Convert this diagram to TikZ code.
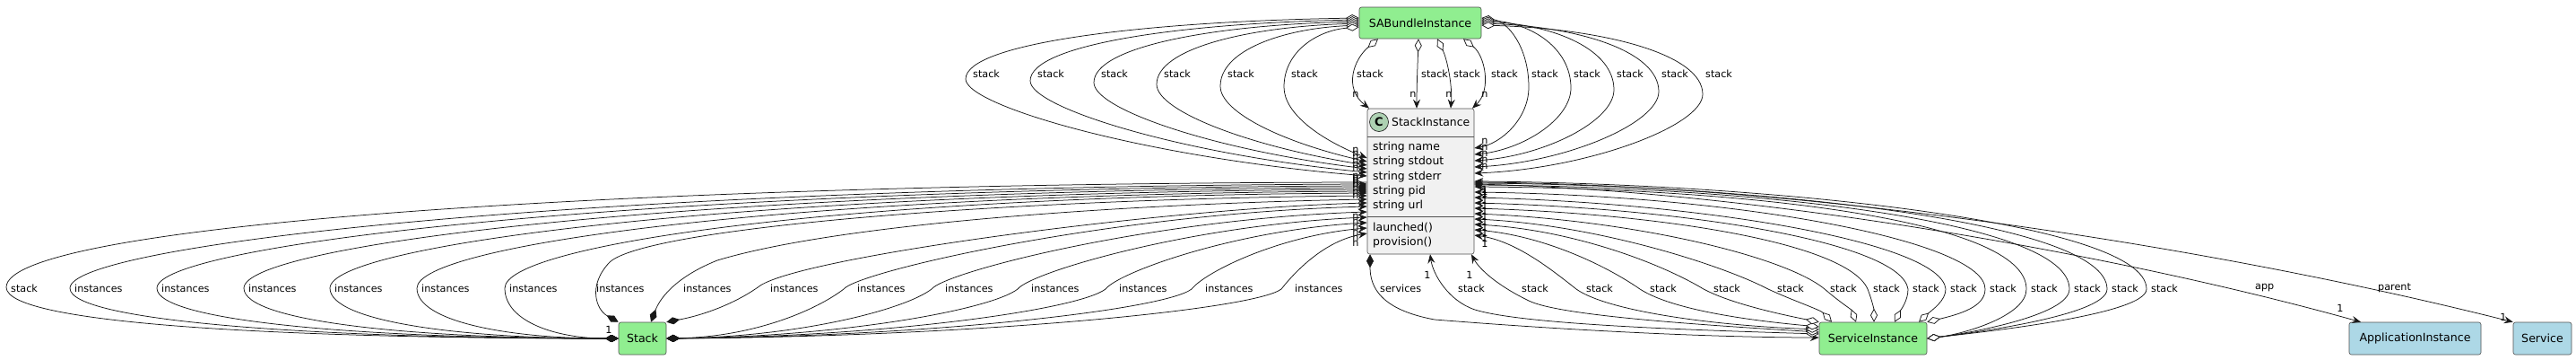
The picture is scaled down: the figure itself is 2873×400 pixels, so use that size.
\documentclass[tikz,border=0pt]{standalone}
\usepackage{fontspec}
\setmainfont{DejaVu Sans}
\usetikzlibrary{arrows.meta}
\definecolor{lgreen}{HTML}{90EE90}
\definecolor{lblue}{HTML}{ADD8E6}
\definecolor{clsbg}{HTML}{F1F1F1}
\definecolor{circ}{HTML}{ADD1B2}
\definecolor{ink}{HTML}{181818}
\begin{document}
\begin{tikzpicture}[x=1pt,y=-1pt,
  box/.style={draw=ink!75, line width=0.6pt, rounded corners=2.5pt, inner sep=0pt, font=\fontsize{12.6}{15}\selectfont, text=black},
  gbox/.style={box, fill=lgreen},
  bbox/.style={box, fill=lblue},
  con/.style={draw=ink, line width=0.75pt},
  agg/.style={con, {Diamond[fill=white,length=15pt,width=8pt]}-{Stealth[length=10pt,width=8pt,inset=3.5pt]}},
  comp/.style={con, {Diamond[length=15pt,width=8pt]}-{Stealth[length=10pt,width=8pt,inset=3.5pt]}},
  dep/.style={con, -{Stealth[length=10pt,width=8pt,inset=3.5pt]}},
  lab/.style={font=\fontsize{11.2}{13}\selectfont, inner sep=0pt, anchor=west},
  mult/.style={font=\fontsize{11.2}{13}\selectfont, inner sep=0pt},
  attr/.style={font=\fontsize{12.4}{14}\selectfont, inner sep=0pt, anchor=west},
  sep/.style={draw=ink!75, line width=0.6pt}]
\fill[white] (0,0) rectangle (2873,400);
\useasboundingbox (0,0) rectangle (2873,400);

% ---------- nodes ----------
\node[gbox, minimum width=136pt, minimum height=35pt] (SAB) at (1584,25.5) {SABundleInstance};
\node[draw=ink!75, fill=clsbg, line width=0.6pt, rounded corners=2.5pt, minimum width=119pt, minimum height=162pt, inner sep=0pt] (SI) at (1584.5,202) {};
\draw[sep] (SI.west |- 0,152) -- (SI.east |- 0,152);
\draw[sep] (SI.west |- 0,241) -- (SI.east |- 0,241);
\node[circle, draw=ink, line width=0.6pt, fill=circ, minimum size=21pt, inner sep=0pt, font=\bfseries\fontsize{13}{13}\selectfont] (SIc) at (1538,136) {C};
\node[attr] (SIt) at (1552,136) {StackInstance};
\node[attr] (at1) at (1531,164) {string name};
\node[attr] (at2) at (1531,180.5) {string stdout};
\node[attr] (at3) at (1531,197) {string stderr};
\node[attr] (at4) at (1531,213) {string pid};
\node[attr] (at5) at (1531,229) {string url};
\node[attr] (me1) at (1531,253.5) {launched()};
\node[attr] (me2) at (1531,270) {provision()};
\node[gbox, minimum width=53pt, minimum height=36pt] (Stack) at (716.5,377) {Stack};
\node[gbox, minimum width=120pt, minimum height=36pt] (SvI) at (2089,377) {ServiceInstance};
\node[bbox, minimum width=147pt, minimum height=36pt] (AppI) at (2693.5,377) {ApplicationInstance};
\node[bbox, minimum width=65pt, minimum height=36pt] (Svc) at (2835.5,377) {Service};

% ---------- SABundleInstance -> StackInstance (top) ----------
\draw[agg] (SAB.south -| 1537,0) .. controls (1510,66) and (1498,98) .. (SI.north -| 1527,0);
\draw[agg] (SAB.south -| 1582,0) .. controls (1581,75) and (1580,95) .. (SI.north -| 1580,0);
\draw[agg] (SAB.south -| 1603,0) .. controls (1614,66) and (1620,95) .. (SI.north -| 1618,0);
\draw[agg] (SAB.south -| 1632,0) .. controls (1656,62) and (1664,100) .. (SI.north -| 1642,0);
\node[lab] (lt1) at (1513,82) {stack};
\node[lab] (lt2) at (1585,82) {stack};
\node[lab] (lt3) at (1621,82) {stack};
\node[lab] (lt4) at (1663,82) {stack};
\node[mult] (nt1) at (1512,105) {n};
\node[mult] (nt2) at (1576,105) {n};
\node[mult] (nt3) at (1616,105) {n};
\node[mult] (nt4) at (1656,105) {n};

% left loops
\foreach \L/\Y/\ys/\ey in {1085/88/20/196,1157/90/22/192,1228/92/24/188,1298/94/26/184,1369/96/28/180,1440/97/30/176}{
  \pgfmathsetmacro\X{\L-8}
  \pgfmathsetmacro\ca{\X+0.45*(1516-\X)}
  \pgfmathsetmacro\cb{\X+0.45*(1525-\X)}
  \draw[agg] (SAB.west |- 0,\ys) .. controls (\ca,\ys+4) and (\X,\Y-40) .. (\X,\Y) .. controls (\X,\Y+30) and (\cb,\ey-20) .. (SI.west |- 0,\ey);
  \node[lab] (lsa\L) at (\L,82) {stack};
  \node[mult] (nsa\L) at (1512,\ey-9) {n};
}
% right loops
\foreach \L/\Y/\ys/\ey in {1708/97/20/165,1755/98/22/172,1803/100/24/179,1853/102/26/186,1902/105/28/193}{
  \pgfmathsetmacro\X{\L-3}
  \pgfmathsetmacro\ca{1652+0.55*(\X-1652)}
  \pgfmathsetmacro\cb{1644+0.5*(\X-1644)}
  \draw[agg] (SAB.east |- 0,\ys) .. controls (\ca,\ys+4) and (\X,\Y-45) .. (\X,\Y) .. controls (\X,\Y+35) and (\cb,\ey-5) .. (SI.east |- 0,\ey);
  \node[lab] (lsb\L) at (\L,82) {stack};
  \node[mult] (nsb\L) at (1656,\ey-8) {n};
}

% ---------- Stack <-> StackInstance ----------
\draw[dep] (SI.west |- 0,203) .. controls (700,204) and (7,250) .. (7,320) .. controls (7,362) and (330,377) .. (Stack.west);
\node[lab] (lst) at (12,321) {stack};
\node[mult] (nst) at (679,367) {1};

\foreach \L/\ey in {83/205,180/207,277/209,373/211,470/213,568/215}{
  \pgfmathsetmacro\X{\L-5}
  \pgfmathsetmacro\ca{\X+0.45*(690-\X)}
  \pgfmathsetmacro\cb{\X+0.4*(1525-\X)}
  \draw[comp] (Stack.west) .. controls (\ca,377) and (\X,358) .. (\X,321) .. controls (\X,272) and (\cb,\ey+3) .. (SI.west |- 0,\ey);
  \node[lab] (lin\L) at (\L,321) {instances};
  \node[mult] (nin\L) at (1512,\ey-9) {n};
}
\draw[comp] (Stack.north west) .. controls (665,345) and (655,318) .. (680,292) .. controls (720,255) and (1100,222) .. (SI.west |- 0,218);
\draw[comp] (Stack.north -| 726,0) .. controls (735,335) and (750,310) .. (800,290) .. controls (950,245) and (1300,226) .. (SI.west |- 0,222);
\draw[comp] (Stack.north east) .. controls (790,350) and (825,335) .. (848,318) .. controls (900,285) and (1300,232) .. (SI.west |- 0,226);
\node[lab] (lin665) at (665,321) {instances};
\node[lab] (lin762) at (762,321) {instances};
\node[lab] (lin859) at (859,321) {instances};
\node[mult] (nin665) at (1512,210) {n};
\node[mult] (nin762) at (1512,214) {n};
\node[mult] (nin859) at (1512,218) {n};
\foreach \L/\ey in {956/230,1054/236,1150/242,1248/248,1344/254,1444/260}{
  \pgfmathsetmacro\K{\L-15}
  \pgfmathsetmacro\ca{\K-0.5*(\K-743)}
  \pgfmathsetmacro\cb{\K+0.5*(1525-\K)}
  \draw[comp] (Stack.east) .. controls (\ca,375) and (\K-30,345) .. (\K,322) .. controls (\K+15,303) and (\cb,\ey+8) .. (SI.west |- 0,\ey);
  \node[lab] (lin\L) at (\L,321) {instances};
  \node[mult] (nin\L) at (1512,\ey+11) {n};
}

% ---------- StackInstance -> ServiceInstance ----------
\draw[comp] (SI.south -| 1528,0) .. controls (1528,320) and (1540,345) .. (1600,356) .. controls (1800,372) and (1950,376) .. (SvI.west |- 0,376);
\node[lab] (lsv) at (1539,321) {services};
\node[mult] (nsv) at (2017,367) {n};

% ---------- ServiceInstance -> StackInstance ----------
\draw[agg] (SvI.west |- 0,372) .. controls (1900,368) and (1700,362) .. (1645,345) .. controls (1615,335) and (1598,305) .. (SI.south -| 1595,0);
\draw[agg] (SvI.west |- 0,370) .. controls (1900,362) and (1740,352) .. (1705,335) .. controls (1670,318) and (1650,300) .. (SI.south -| 1641,0);
\node[mult] (n1a) at (1592,306) {1};
\node[mult] (n1b) at (1639,306) {1};
\draw[agg] (SvI.west |- 0,367) .. controls (1900,362) and (1790,345) .. (1758,322) .. controls (1730,300) and (1690,268) .. (SI.east |- 0,262);
\draw[agg] (SvI.west |- 0,364) .. controls (1930,355) and (1860,342) .. (1829,322) .. controls (1790,295) and (1720,262) .. (SI.east |- 0,256);
\draw[agg] (SvI.north west) .. controls (1985,350) and (1930,338) .. (1900,322) .. controls (1850,292) and (1750,255) .. (SI.east |- 0,250);
\draw[agg] (SvI.north -| 2043,0) .. controls (2030,345) and (2000,335) .. (1972,322) .. controls (1920,295) and (1780,250) .. (SI.east |- 0,244);
\draw[agg] (SvI.north -| 2070,0) .. controls (2065,345) and (2050,335) .. (2035,322) .. controls (1990,285) and (1820,245) .. (SI.east |- 0,238);
\draw[agg] (SvI.north -| 2090,0) .. controls (2090,345) and (2088,335) .. (2083,322) .. controls (2060,270) and (1850,238) .. (SI.east |- 0,232);
\draw[agg] (SvI.north -| 2113,0) .. controls (2120,345) and (2128,335) .. (2128,322) .. controls (2120,270) and (1880,232) .. (SI.east |- 0,226);
\draw[agg] (SvI.north -| 2140,0) .. controls (2155,345) and (2170,335) .. (2170,322) .. controls (2165,270) and (1900,226) .. (SI.east |- 0,220);
\draw[agg] (SvI.north east) .. controls (2185,350) and (2214,342) .. (2214,322) .. controls (2214,270) and (1950,218) .. (SI.east |- 0,214);
\foreach \L/\ey in {1626/0,1697/0}{}
\node[lab] (lc1) at (1626,321) {stack};
\node[lab] (lc2) at (1697,321) {stack};
\node[lab] (lc3) at (1769,321) {stack};
\node[lab] (lc4) at (1840,321) {stack};
\node[lab] (lc5) at (1911,321) {stack};
\node[lab] (lc6) at (1982,321) {stack};
\node[lab] (lc7) at (2041,321) {stack};
\node[lab] (lc8) at (2089,321) {stack};
\node[lab] (lc9) at (2133,321) {stack};
\node[lab] (lc10) at (2175,321) {stack};
\node[lab] (lc11) at (2219,321) {stack};
\foreach \ey in {262,256,250,244,238,232,226,220,214}{
  \node[mult] (nc\ey) at (1656,\ey+9) {1};
}
\foreach \L/\ey in {2265/208,2313/206,2355/204,2399/202}{
  \pgfmathsetmacro\K{\L-5}
  \draw[agg] (SvI.east) .. controls (2190,372) and (\K,352) .. (\K,322) .. controls (\K,245) and (1950,\ey+2) .. (SI.east |- 0,\ey);
  \node[lab] (lcl\L) at (\L,321) {stack};
  \node[mult] (ncl\L) at (1656,\ey+9) {1};
}

% ---------- app / parent ----------
\draw[dep] (SI.east |- 0,205) .. controls (1950,212) and (2350,280) .. (AppI.north -| 2633,0);
\draw[dep] (SI.east |- 0,203) .. controls (2000,205) and (2450,270) .. (Svc.north west);
\node[lab] (lapp) at (2515,321) {app};
\node[lab] (lpar) at (2652,321) {parent};
\node[mult] (napp) at (2610,343) {1};
\node[mult] (npar) at (2792,353) {1};
\end{tikzpicture}
\end{document}
